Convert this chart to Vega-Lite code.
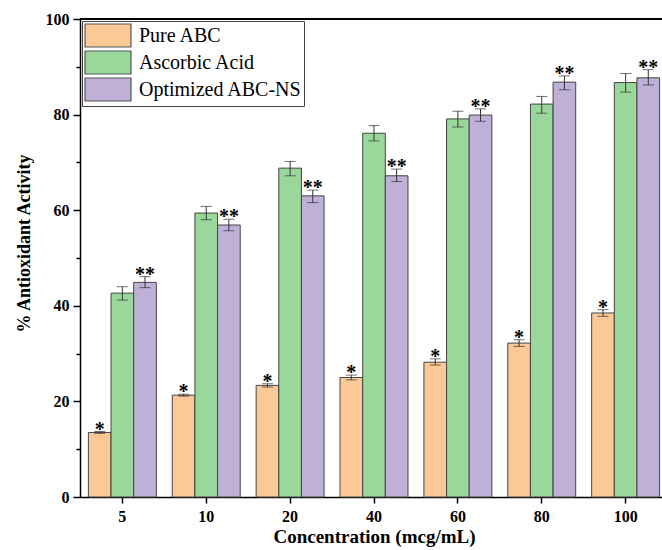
{
  "$schema": "https://vega.github.io/schema/vega-lite/v6.json",
  "autosize": {"type": "none"},
  "width": 582,
  "height": 478,
  "padding": {"left": 80, "top": 19, "right": 0, "bottom": 53},
  "background": "white",
  "config": {
    "view": {"stroke": null},
    "font": "Liberation Serif"
  },
  "data": {
    "values": [
      {"conc": "5", "series": "Pure ABC", "value": 13.5, "lo": 13.3, "hi": 13.7, "sig": "*"},
      {"conc": "5", "series": "Ascorbic Acid", "value": 42.65, "lo": 41.2, "hi": 44.0, "sig": ""},
      {"conc": "5", "series": "Optimized ABC-NS", "value": 44.9, "lo": 43.8, "hi": 46.1, "sig": "**"},
      {"conc": "10", "series": "Pure ABC", "value": 21.3, "lo": 21.1, "hi": 21.5, "sig": "*"},
      {"conc": "10", "series": "Ascorbic Acid", "value": 59.4, "lo": 58.0, "hi": 60.8, "sig": ""},
      {"conc": "10", "series": "Optimized ABC-NS", "value": 56.9, "lo": 55.7, "hi": 58.1, "sig": "**"},
      {"conc": "20", "series": "Pure ABC", "value": 23.35, "lo": 23.0, "hi": 23.7, "sig": "*"},
      {"conc": "20", "series": "Ascorbic Acid", "value": 68.8, "lo": 67.2, "hi": 70.2, "sig": ""},
      {"conc": "20", "series": "Optimized ABC-NS", "value": 63.0, "lo": 61.6, "hi": 64.2, "sig": "**"},
      {"conc": "40", "series": "Pure ABC", "value": 25.0, "lo": 24.5, "hi": 25.5, "sig": "*"},
      {"conc": "40", "series": "Ascorbic Acid", "value": 76.1, "lo": 74.5, "hi": 77.7, "sig": ""},
      {"conc": "40", "series": "Optimized ABC-NS", "value": 67.2, "lo": 66.0, "hi": 68.6, "sig": "**"},
      {"conc": "60", "series": "Pure ABC", "value": 28.2, "lo": 27.6, "hi": 28.9, "sig": "*"},
      {"conc": "60", "series": "Ascorbic Acid", "value": 79.1, "lo": 77.4, "hi": 80.7, "sig": ""},
      {"conc": "60", "series": "Optimized ABC-NS", "value": 79.9, "lo": 78.6, "hi": 81.2, "sig": "**"},
      {"conc": "80", "series": "Pure ABC", "value": 32.2, "lo": 31.5, "hi": 32.9, "sig": "*"},
      {"conc": "80", "series": "Ascorbic Acid", "value": 82.2, "lo": 80.3, "hi": 83.8, "sig": ""},
      {"conc": "80", "series": "Optimized ABC-NS", "value": 86.8, "lo": 85.2, "hi": 88.1, "sig": "**"},
      {"conc": "100", "series": "Pure ABC", "value": 38.5, "lo": 37.8, "hi": 39.2, "sig": "*"},
      {"conc": "100", "series": "Ascorbic Acid", "value": 86.7, "lo": 84.7, "hi": 88.6, "sig": ""},
      {"conc": "100", "series": "Optimized ABC-NS", "value": 87.7, "lo": 86.2, "hi": 89.4, "sig": "**"}
    ]
  },
  "layer": [
    {
      "encoding": {
        "x": {
          "field": "conc",
          "type": "nominal",
          "sort": ["5", "10", "20", "40", "60", "80", "100"],
          "scale": {"range": [0, 588], "paddingInner": 0.19, "paddingOuter": 0.1},
          "axis": {
            "title": "Concentration (mcg/mL)",
            "titleFont": "Liberation Serif",
            "titleFontSize": 19,
            "titleFontWeight": "bold",
            "titleColor": "black",
            "titlePadding": 3,
            "labelFont": "Liberation Serif",
            "labelFontSize": 16,
            "labelFontWeight": "bold",
            "labelColor": "black",
            "labelAngle": 0,
            "labelPadding": 5,
            "domainColor": "black",
            "domainWidth": 1.5,
            "tickColor": "black",
            "tickWidth": 1.5,
            "tickSize": 6
          }
        },
        "xOffset": {
          "field": "series",
          "type": "nominal",
          "sort": ["Pure ABC", "Ascorbic Acid", "Optimized ABC-NS"],
          "scale": {"paddingInner": 0, "paddingOuter": 0}
        }
      },
      "layer": [
        {
          "mark": {"type": "bar", "stroke": "#444444", "strokeWidth": 1},
          "encoding": {
            "y": {
              "field": "value",
              "type": "quantitative",
              "scale": {"domain": [0, 100], "nice": false},
              "axis": {
                "title": "% Antioxidant Activity",
                "titleFont": "Liberation Serif",
                "titleFontSize": 18,
                "titleFontWeight": "bold",
                "titleColor": "black",
                "titlePadding": 12,
                "titleY": 224,
                "values": [0, 10, 20, 30, 40, 50, 60, 70, 80, 90, 100],
                "labelExpr": "datum.value % 20 === 0 ? datum.label : ''",
                "labelFont": "Liberation Serif",
                "labelFontSize": 16,
                "labelFontWeight": "bold",
                "labelColor": "black",
                "labelPadding": 4,
                "domainColor": "black",
                "domainWidth": 1.5,
                "tickColor": "black",
                "tickWidth": 1.5,
                "tickSize": {"condition": {"test": "datum.value % 20 === 0", "value": 7}, "value": 4},
                "grid": false
              }
            },
            "color": {
              "field": "series",
              "type": "nominal",
              "sort": ["Pure ABC", "Ascorbic Acid", "Optimized ABC-NS"],
              "scale": {
                "domain": ["Pure ABC", "Ascorbic Acid", "Optimized ABC-NS"],
                "range": ["#FCC996", "#9AD79B", "#BEB0D6"]
              },
              "legend": {
                "title": null,
                "orient": "none",
                "legendX": 2,
                "legendY": 2,
                "symbolType": "M-1,-1H3V1H-1Z",
                "symbolSize": 529,
                "symbolStrokeColor": "#555555",
                "symbolStrokeWidth": 1.2,
                "symbolOpacity": 1,
                "labelFont": "Liberation Serif",
                "labelFontSize": 20,
                "labelColor": "black",
                "labelOffset": 30,
                "rowPadding": -5,
                "padding": 2,
                "strokeColor": "#444444",
                "fillColor": "white",
                "labelLimit": 300
              }
            }
          }
        },
        {
          "mark": {"type": "rule", "color": "#333333", "strokeWidth": 1},
          "encoding": {
            "y": {"field": "lo", "type": "quantitative"},
            "y2": {"field": "hi"}
          }
        },
        {
          "mark": {"type": "tick", "color": "#333333", "thickness": 1, "size": 11},
          "encoding": {"y": {"field": "lo", "type": "quantitative"}}
        },
        {
          "mark": {"type": "tick", "color": "#333333", "thickness": 1, "size": 11},
          "encoding": {"y": {"field": "hi", "type": "quantitative"}}
        },
        {
          "mark": {"type": "text", "font": "Liberation Serif", "fontSize": 20, "fontWeight": "bold", "color": "black", "baseline": "alphabetic", "dy": 4},
          "encoding": {
            "y": {"field": "hi", "type": "quantitative"},
            "text": {"field": "sig"}
          }
        }
      ]
    },
    {
      "mark": {"type": "rule", "color": "black", "strokeWidth": 1.5},
      "encoding": {"y": {"datum": 100}}
    }
  ]
}
